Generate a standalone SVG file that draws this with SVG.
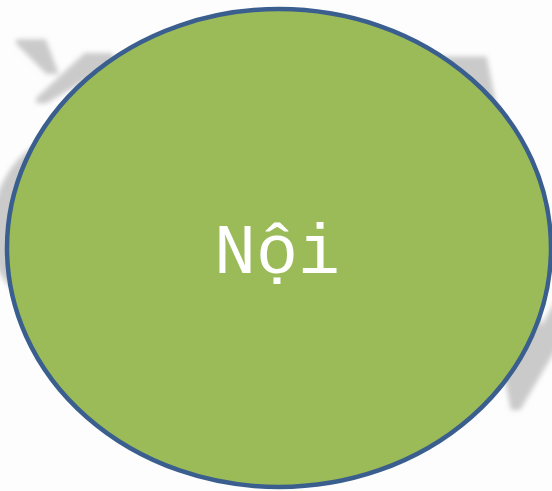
<svg xmlns="http://www.w3.org/2000/svg" width="552" height="491" viewBox="0 0 552 491">
  <defs>
    <filter id="blur" x="-20%" y="-20%" width="140%" height="140%">
      <feGaussianBlur stdDeviation="2.5"/>
    </filter>
    <style>
      .bgtext { font-family: "Liberation Serif", serif; font-style: italic; fill: #cacaca; filter: url(#blur); }
      .node-shape { fill: #9BBB59; stroke: #3A5F8E; stroke-width: 4.5; }
      .node-label { font-family: "Liberation Mono", "DejaVu Sans Mono", monospace; fill: #FFFFFF; text-anchor: middle; }
    </style>
  </defs>
  <rect width="552" height="491" fill="#FDFDFD"/>
  <g id="background">
    <text class="bgtext" x="-20" y="300" font-size="360">ồ</text>
    <text class="bgtext" x="330" y="410" font-size="540">M</text>
  </g>
  <g id="connectors"/>
  <g id="node-noi">
    <ellipse class="node-shape" cx="279" cy="248" rx="272" ry="239"/>
    <text class="node-label" x="277" y="273" font-size="70">Nội</text>
  </g>
</svg>
